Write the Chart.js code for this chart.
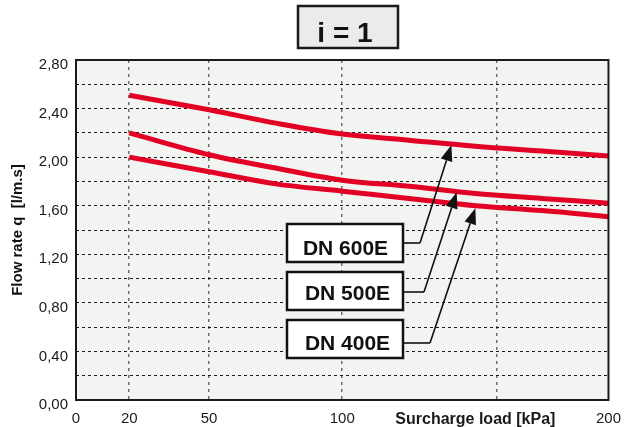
<!DOCTYPE html>
<html>
<head>
<meta charset="utf-8">
<script src="https://cdn.jsdelivr.net/npm/chart.js@4/dist/chart.umd.min.js"></script>
<style>
  html, body { margin: 0; padding: 0; background: #ffffff; }
  #wrap { width: 631px; height: 427px; position: relative; }
</style>
</head>
<body>
<div id="wrap"><canvas id="c" width="631" height="427"></canvas></div>
<script>
// ---- data ----
const LOAD_KPA = [20, 50, 75, 100, 125, 150, 175, 200];
const DN600E = [2.51, 2.39, 2.28, 2.19, 2.14, 2.09, 2.05, 2.01];
const DN500E = [2.20, 2.02, 1.91, 1.81, 1.76, 1.70, 1.66, 1.62];
const DN400E = [2.00, 1.88, 1.78, 1.72, 1.66, 1.60, 1.56, 1.51];
const SERIES_NAMES = ['DN 600E', 'DN 500E', 'DN 400E'];
const X_TICKS = [0, 20, 50, 100, 150, 158, 200];
const X_TICK_LABELS = ['0', '20', '50', '100', 'Surcharge load [kPa]', '', '200'];
const X_GRID_VALUES = [20, 50, 100, 158];
const Y_MIN = 0, Y_MAX = 2.8, Y_STEP = 0.2;
const TITLE_TEXT = 'i = 1';
const Y_TITLE = 'Flow rate q  [l/m.s]';

// annotation arrow targets (data coords) for each series label
const ARROW_TARGETS = [[141, 2.10], [143, 1.71], [150, 1.58]];

const RED = 'rgb(226,0,36)';
const FONT = '"Liberation Sans", Arial, Helvetica, sans-serif';

function mkData(ys) { return LOAD_KPA.map((x, i) => ({ x: x, y: ys[i] })); }

const bgPlugin = {
  id: 'bg',
  beforeDraw(chart) {
    const { ctx, chartArea: a } = chart;
    ctx.save();
    ctx.fillStyle = '#f2f4f1';
    ctx.fillRect(a.left, a.top, a.right - a.left, a.bottom - a.top);
    ctx.restore();
  }
};

function arrow(ctx, x0, y0, x1, y1) {
  const ang = Math.atan2(y1 - y0, x1 - x0);
  const L = 16, W = 6;
  const bx = x1 - L * Math.cos(ang), by = y1 - L * Math.sin(ang);
  ctx.beginPath();
  ctx.moveTo(x0, y0);
  ctx.lineTo(bx, by);
  ctx.stroke();
  ctx.beginPath();
  ctx.moveTo(x1, y1);
  ctx.lineTo(bx + W * Math.sin(ang), by - W * Math.cos(ang));
  ctx.lineTo(bx - W * Math.sin(ang), by + W * Math.cos(ang));
  ctx.closePath();
  ctx.fill();
}

const annoPlugin = {
  id: 'anno',
  afterDraw(chart) {
    const { ctx, chartArea: a, scales } = chart;
    ctx.save();
    ctx.setLineDash([]);
    // plot border
    ctx.strokeStyle = '#1a1a1a';
    ctx.lineWidth = 2;
    ctx.strokeRect(a.left, a.top, a.right - a.left, a.bottom - a.top);

    // title box
    ctx.fillStyle = '#ebebeb';
    ctx.fillRect(298, 6, 100, 42);
    ctx.strokeStyle = '#1a1a1a';
    ctx.lineWidth = 2.5;
    ctx.strokeRect(298, 6, 100, 42);
    ctx.fillStyle = '#111';
    ctx.font = 'bold 28px ' + FONT;
    ctx.textAlign = 'center';
    ctx.textBaseline = 'alphabetic';
    ctx.fillText(TITLE_TEXT, 345, 42);

    // y axis title
    ctx.save();
    ctx.translate(22, (a.top + a.bottom) / 2 + 0);
    ctx.rotate(-Math.PI / 2);
    ctx.font = 'bold 15px ' + FONT;
    ctx.fillStyle = '#111';
    ctx.textAlign = 'center';
    ctx.fillText(Y_TITLE, 0, 0);
    ctx.restore();

    // label boxes with arrows
    const boxes = [
      { x: 287, y: 224, w: 116, h: 38, ty: 255, bend: [420, 243] },
      { x: 287, y: 272, w: 116, h: 38, ty: 300, bend: [424, 292] },
      { x: 287, y: 320, w: 116, h: 38, ty: 350, bend: [430, 343] }
    ];
    boxes.forEach((b, i) => {
      const tx = scales.x.getPixelForValue(ARROW_TARGETS[i][0]);
      const ty = scales.y.getPixelForValue(ARROW_TARGETS[i][1]);
      ctx.strokeStyle = '#111';
      ctx.fillStyle = '#111';
      ctx.lineWidth = 1.6;
      ctx.beginPath();
      ctx.moveTo(b.x + b.w, b.bend[1]);
      ctx.lineTo(b.bend[0], b.bend[1]);
      ctx.stroke();
      arrow(ctx, b.bend[0], b.bend[1], tx, ty);

      ctx.fillStyle = '#ffffff';
      ctx.fillRect(b.x, b.y, b.w, b.h);
      ctx.strokeStyle = '#111';
      ctx.lineWidth = 2.5;
      ctx.strokeRect(b.x, b.y, b.w, b.h);
      ctx.fillStyle = '#111';
      ctx.font = 'bold 21px ' + FONT;
      ctx.textAlign = 'center';
      ctx.fillText(SERIES_NAMES[i], b.x + b.w / 2 + 0.5 + (i ? 2 : 0), b.ty);
    });
    ctx.restore();
  }
};

const ds = (label, ys) => ({
  label: label,
  data: mkData(ys),
  borderColor: RED,
  borderWidth: 5,
  pointRadius: 0,
  fill: false,
  tension: 0.35,
  borderCapStyle: 'butt'
});

new Chart(document.getElementById('c'), {
  type: 'line',
  data: {
    datasets: [ds(SERIES_NAMES[0], DN600E), ds(SERIES_NAMES[1], DN500E), ds(SERIES_NAMES[2], DN400E)]
  },
  options: {
    responsive: false,
    animation: false,
    devicePixelRatio: 1,
    layout: { padding: { top: 60, right: 13, left: 0, bottom: 0 } },
    plugins: { legend: { display: false }, tooltip: { enabled: false }, title: { display: false } },
    scales: {
      x: {
        type: 'linear',
        min: 0, max: 200,
        afterFit(s) { s.height = 27; },
        afterBuildTicks(s) { s.ticks = X_TICKS.map(v => ({ value: v })); },
        border: { display: false, dash: [3, 4] },
        grid: {
          drawTicks: false,
          color: (c) => (c.tick && X_GRID_VALUES.includes(c.tick.value)) ? '#6e6e6e' : 'rgba(0,0,0,0)',
          lineWidth: 1.5,
          tickLength: 0
        },
        ticks: {
          autoSkip: false,
          maxRotation: 0,
          padding: 10,
          color: '#1a1a1a',
          font: (c) => (c.tick && c.tick.value === 150) ? { family: FONT, size: 16, weight: 'bold' } : { family: FONT, size: 15 },
          callback: (v) => { const i = X_TICKS.indexOf(v); return i >= 0 ? X_TICK_LABELS[i] : ''; }
        }
      },
      y: {
        type: 'linear',
        min: Y_MIN, max: Y_MAX,
        afterFit(s) { s.width = 76; },
        border: { display: false, dash: [3, 3] },
        grid: {
          drawTicks: false,
          color: '#1a1a1a',
          lineWidth: 1
        },
        ticks: {
          stepSize: Y_STEP,
          padding: 8,
          labelOffset: 5,
          color: '#1a1a1a',
          font: { family: FONT, size: 15 },
          callback: (v) => {
            const k = Math.round(v * 10);
            return (k % 4 === 0) ? v.toFixed(2).replace('.', ',') : '';
          }
        }
      }
    }
  },
  plugins: [bgPlugin, annoPlugin]
});
</script>
</body>
</html>
